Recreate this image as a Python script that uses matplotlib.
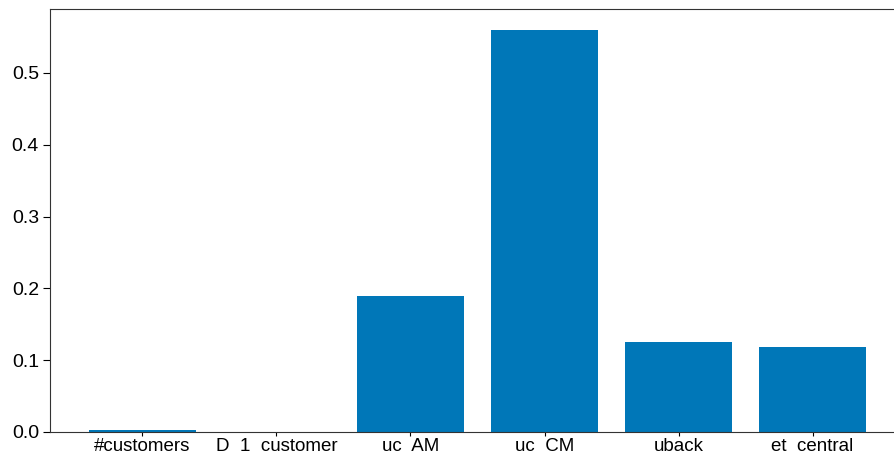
import matplotlib.pyplot as plt

features = ['#customers', 'D  1  customer', 'uc  AM', 'uc  CM', 'uback', 'et  central']
importance = [0.003, 0.0003, 0.190, 0.560, 0.126, 0.118]

plt.rcParams['font.family'] = ['Liberation Sans', 'DejaVu Sans']

fig = plt.figure(figsize=(8.95, 4.54), dpi=100)
ax = fig.add_axes([50 / 895, 22 / 454, 855 / 895, 423 / 454])
ax.bar(range(len(features)), importance, width=0.8, color='#0077b8')
ax.set_xticks(range(len(features)))
ax.set_xticklabels(features, fontsize=13.5)
ax.tick_params(axis='x', length=3, pad=1)
ax.tick_params(axis='y', labelsize=14, length=5, pad=3)
ax.set_ylim(0, 0.589)
for s in ax.spines.values():
    s.set_color('#333333')

fig.savefig('out.png', dpi=100)
